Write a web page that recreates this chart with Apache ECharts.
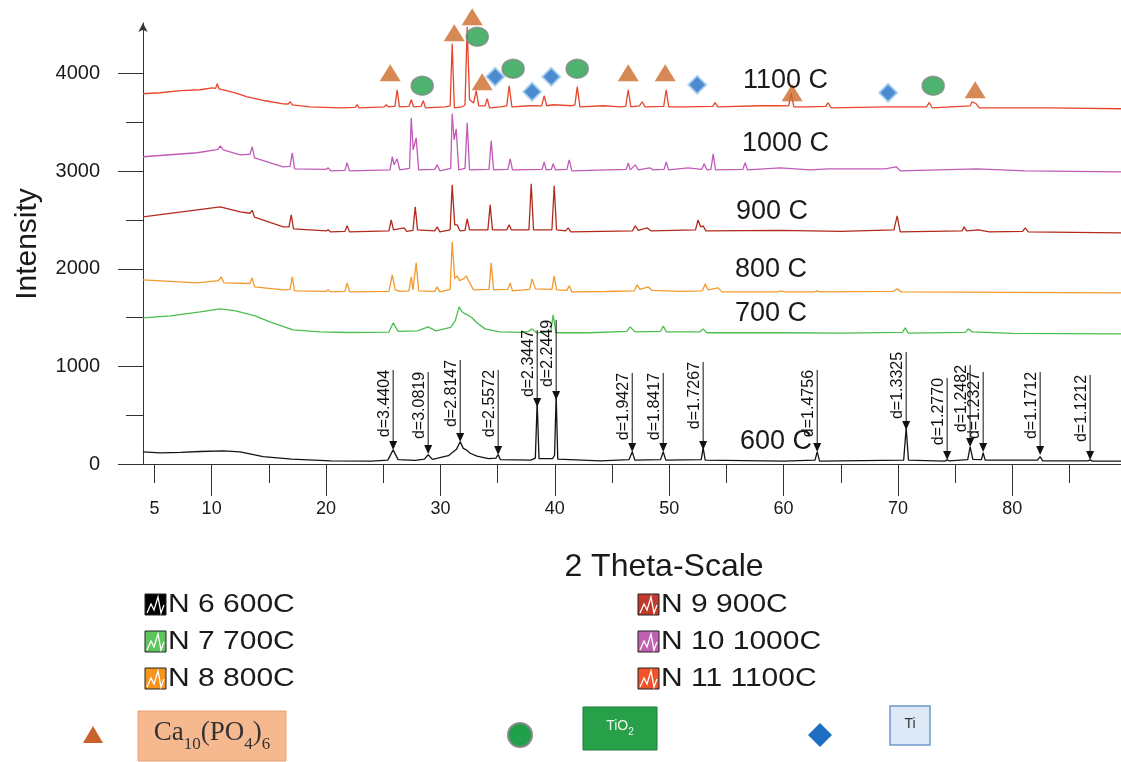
<!DOCTYPE html>
<html>
<head>
<meta charset="utf-8">
<title>XRD patterns</title>
<script src="https://cdn.jsdelivr.net/npm/echarts@6/dist/echarts.min.js"></script>
<style>
  html, body { margin: 0; padding: 0; background: #fff; }
  #chart { width: 1121px; height: 762px; }
</style>
</head>
<body>
<div id="chart"></div>
<script>
// 2 theta / intensity pairs
var s600 = [[4.0,125],[5.5,115],[7.3,120],[9.0,128],[11.0,135],[12.5,125],[14.5,75],[17.0,50],[20.4,32],[24.0,30],[25.4,40],[25.87,145],[26.3,45],[27.8,38],[28.6,50],[28.93,95],[29.3,48],[30.7,85],[31.4,150],[31.73,228],[32.0,160],[32.26,145],[32.6,110],[33.2,80],[34.2,55],[34.85,60],[35.05,95],[35.25,45],[37.9,40],[38.3,60],[38.46,636],[38.62,55],[39.8,55],[39.98,90],[40.12,708],[40.26,50],[44.0,32],[46.5,45],[46.77,125],[47.0,40],[49.25,45],[49.48,125],[49.7,40],[52.8,45],[52.97,165],[53.15,40],[60.0,30],[62.75,40],[62.94,125],[63.15,30],[70.5,40],[70.72,370],[70.92,40],[74.1,30],[74.3,42],[74.5,32],[76.1,45],[76.31,175],[76.55,48],[77.3,45],[77.45,115],[77.62,40],[82.2,40],[82.43,75],[82.65,32],[86.6,32],[86.8,42],[87.0,30],[89.5,30]];
var s700 = [[4.0,1497],[6.4,1518],[9.0,1560],[10.75,1590],[12.1,1570],[13.8,1518],[15.1,1456],[17.1,1375],[19.5,1354],[22.0,1348],[25.5,1352],[25.87,1446],[26.3,1360],[28.0,1365],[28.93,1405],[29.6,1365],[30.9,1400],[31.3,1470],[31.64,1610],[31.9,1560],[32.17,1538],[32.5,1520],[32.78,1497],[33.22,1446],[33.9,1385],[35.2,1354],[37.0,1350],[37.7,1360],[38.02,1385],[38.4,1345],[39.65,1360],[39.86,1528],[40.1,1345],[43.0,1345],[46.3,1360],[46.59,1405],[47.0,1354],[49.25,1360],[49.48,1415],[49.75,1354],[52.7,1355],[52.97,1385],[53.3,1345],[60.0,1345],[65.0,1342],[70.4,1350],[70.63,1395],[70.9,1342],[75.9,1350],[76.14,1385],[76.5,1354],[80.0,1338],[89.5,1333]];
var s800 = [[4.0,1887],[8.74,1856],[10.6,1880],[10.84,1918],[11.08,1856],[13.35,1850],[13.55,1908],[13.75,1815],[16.26,1785],[16.85,1790],[17.05,1918],[17.25,1774],[20.0,1770],[20.19,1785],[20.4,1764],[21.65,1770],[21.85,1856],[22.05,1764],[25.5,1770],[25.79,1938],[26.05,1785],[26.22,1800],[26.45,1770],[27.25,1775],[27.45,1918],[27.6,1785],[27.88,2061],[28.1,1774],[29.5,1770],[29.72,1815],[29.95,1764],[30.85,1790],[31.03,2277],[31.25,1900],[31.47,1928],[31.65,1880],[31.82,1887],[32.05,1900],[32.26,1928],[32.45,1880],[32.6,1887],[32.9,1785],[34.25,1790],[34.44,2061],[34.65,1785],[35.9,1790],[36.1,1856],[36.3,1774],[37.8,1790],[38.02,1897],[38.3,1795],[39.75,1790],[39.95,1928],[40.15,1785],[41.05,1780],[41.26,1826],[41.5,1764],[44.5,1768],[46.95,1775],[47.2,1836],[47.45,1790],[48.16,1815],[48.5,1780],[51.0,1770],[52.9,1775],[53.15,1846],[53.4,1785],[54.28,1805],[54.6,1764],[59.5,1765],[59.79,1774],[60.1,1764],[62.7,1765],[62.94,1774],[63.2,1764],[69.6,1770],[69.93,1795],[70.3,1764],[80.0,1760],[89.5,1754]];
var s900 = [[4.0,2533],[8.74,2605],[10.75,2636],[12.5,2585],[13.35,2570],[13.55,2600],[13.75,2530],[16.26,2431],[16.76,2430],[16.96,2554],[17.16,2410],[20.0,2390],[20.19,2400],[20.4,2379],[21.65,2385],[21.85,2441],[22.05,2379],[25.5,2390],[25.7,2502],[25.9,2400],[26.83,2420],[27.05,2385],[27.6,2395],[27.8,2636],[28.0,2400],[29.5,2390],[29.72,2431],[29.95,2379],[30.85,2400],[31.03,2861],[31.25,2451],[31.47,2451],[31.7,2390],[32.15,2395],[32.34,2513],[32.55,2400],[34.15,2400],[34.35,2656],[34.55,2400],[35.8,2400],[36.01,2451],[36.2,2400],[37.74,2400],[37.94,2872],[38.14,2400],[39.75,2400],[39.95,2851],[40.15,2400],[40.95,2390],[41.17,2420],[41.4,2379],[46.8,2390],[47.03,2441],[47.3,2395],[48.08,2420],[48.4,2390],[52.3,2400],[52.53,2502],[52.75,2430],[52.97,2441],[53.2,2390],[59.7,2395],[65.0,2385],[69.65,2400],[69.93,2544],[70.2,2379],[75.6,2390],[75.79,2431],[76.0,2390],[77.01,2400],[78.0,2380],[80.9,2385],[81.12,2420],[81.4,2380],[89.5,2369]];
var s1000 = [[4.0,3149],[8.74,3190],[10.31,3220],[10.55,3225],[10.75,3261],[11.01,3220],[12.5,3169],[13.35,3175],[13.55,3251],[13.75,3138],[16.26,3046],[16.85,3050],[17.05,3190],[17.25,3025],[20.0,3020],[20.19,3036],[20.4,3005],[21.65,3010],[21.85,3087],[22.05,3005],[25.6,3015],[25.79,3149],[25.95,3067],[26.22,3128],[26.45,3015],[27.3,3030],[27.45,3548],[27.62,3220],[27.88,3343],[28.1,3015],[29.5,3020],[29.72,3066],[29.95,3005],[30.9,3030],[31.03,3590],[31.2,3323],[31.38,3436],[31.6,3015],[32.15,3030],[32.34,3497],[32.55,3015],[34.25,3020],[34.44,3313],[34.65,3015],[35.9,3020],[36.1,3128],[36.3,3015],[38.9,3020],[39.07,3097],[39.25,3015],[39.7,3020],[39.86,3077],[40.05,3015],[41.06,3020],[41.26,3118],[41.5,3005],[46.25,3020],[46.42,3087],[46.6,3015],[47.03,3066],[47.3,3015],[48.3,3036],[48.6,3015],[49.55,3020],[49.74,3097],[49.95,3015],[51.66,3036],[52.85,3020],[53.06,3077],[53.3,3015],[53.65,3020],[53.85,3179],[54.05,3015],[56.44,3020],[56.64,3087],[56.85,3015],[59.7,3036],[62.3,3015],[63.9,3025],[68.88,3025],[69.84,3046],[70.2,3005],[76.92,3025],[81.12,3005],[89.5,2995]];
var s1100 = [[4.0,3795],[5.5,3805],[7.3,3826],[9.0,3836],[10.05,3856],[10.35,3850],[10.49,3897],[10.65,3846],[12.06,3805],[13.11,3764],[14.69,3723],[16.26,3692],[16.7,3690],[16.87,3713],[17.05,3680],[18.62,3661],[21.24,3651],[22.55,3655],[22.73,3682],[22.9,3651],[25.1,3660],[25.26,3682],[25.45,3661],[26.02,3665],[26.22,3836],[26.42,3661],[27.25,3665],[27.45,3733],[27.65,3661],[28.3,3665],[28.5,3723],[28.7,3651],[30.42,3661],[30.85,3670],[31.03,4308],[31.22,3651],[31.9,3661],[32.15,3680],[32.34,4482],[32.55,3733],[32.9,3700],[33.13,3826],[33.35,3672],[33.9,3670],[34.09,3744],[34.3,3651],[35.22,3661],[35.8,3670],[36.01,3877],[36.25,3661],[37.85,3672],[38.85,3670],[39.07,3774],[39.3,3672],[39.86,3682],[41.52,3672],[41.76,3680],[41.96,3867],[42.2,3661],[44.23,3672],[45.72,3661],[46.2,3665],[46.42,3836],[46.65,3661],[47.4,3670],[47.64,3713],[47.9,3661],[49.52,3665],[49.74,3836],[49.96,3661],[51.57,3661],[53.8,3665],[54.02,3703],[54.25,3661],[57.95,3672],[59.27,3672],[60.45,3670],[60.66,3805],[60.9,3661],[62.24,3661],[63.7,3665],[63.9,3703],[64.15,3651],[69.14,3661],[72.5,3660],[72.73,3703],[73.0,3651],[76.3,3670],[76.49,3713],[76.84,3692],[77.1,3651],[83.3,3651],[89.5,3641]];

// phase markers above the 1100 C pattern
var triangles = [[25.61,4010],[31.21,4420],[32.78,4584],[33.65,3918],[46.42,4010],[49.65,4010],[60.75,3805],[76.75,3836]];
var circles = [[28.41,3877],[33.22,4379],[36.36,4051],[41.96,4051],[73.08,3877]];
var diamonds = [[34.79,3969],[38.02,3815],[39.69,3969],[52.45,3887],[69.14,3805]];

// d-spacing annotations on the 600 C pattern: 2theta, top of line, arrow tip
var dTheta = [25.87, 28.93, 31.73, 35.05, 38.46, 40.12, 46.77, 49.48, 52.97, 62.94, 70.72, 74.30, 76.31, 77.45, 82.43, 86.80];
var dTop   = [964, 944, 1067, 964, 1374, 1477, 933, 933, 1046, 964, 1149, 882, 1015, 944, 944, 913];
var dTip   = [144, 103, 226, 92, 585, 656, 123, 123, 144, 123, 349, 41, 174, 123, 92, 41];
var dText  = ['3.4404','3.0819','2.8147','2.5572','2.3447','2.2449','1.9427','1.8417','1.7267','1.4756','1.3325','1.2770','1.2482','1.2327','1.1712','1.1212'];

var xTicksMajor = [10, 20, 30, 40, 50, 60, 70, 80];
var xTicksMinor = [5, 15, 25, 35, 45, 55, 65, 75, 85];
var xLabels = [5, 10, 20, 30, 40, 50, 60, 70, 80];
var yTicksMajor = [0, 1000, 2000, 3000, 4000];
var yTicksMinor = [500, 1500, 2500, 3500];

var seriesNames = ['N 6 600C', 'N 7 700C', 'N 8 800C', 'N 9 900C', 'N 10 1000C', 'N 11 1100C'];
var curveLabels = ['600 C', '700 C', '800 C', '900 C', '1000 C', '1100 C'];
var lineColors = ['#141414', '#4dbd4d', '#f39a2e', '#b22a1c', '#c25ab8', '#e8452a'];
var iconColors = ['#000000', '#5cc55c', '#f7941d', '#c0392b', '#c060b0', '#f0522a'];

var FONT = '"Liberation Sans", Arial, sans-serif';
var chart = echarts.init(document.getElementById('chart'));

var allData = [s600, s700, s800, s900, s1000, s1100];
var series = allData.map(function (d, i) {
  return {
    name: seriesNames[i], type: 'line', data: d, showSymbol: false, silent: true,
    lineStyle: { color: lineColors[i], width: 1.3 }, z: 2
  };
});

series.push({
  type: 'custom', z: 3, silent: true,
  data: dTheta.map(function (t, i) { return [t, dTop[i], dTip[i], i]; }),
  renderItem: function (params, api) {
    var top = api.coord([api.value(0), api.value(1)]);
    var tip = api.coord([api.value(0), api.value(2)]);
    var i = api.value(3);
    return {
      type: 'group',
      children: [
        { type: 'line', shape: { x1: top[0], y1: top[1], x2: tip[0], y2: tip[1] - 8 },
          style: { stroke: '#111', lineWidth: 1 } },
        { type: 'polygon', shape: { points: [[tip[0] - 4, tip[1] - 9], [tip[0] + 4, tip[1] - 9], [tip[0], tip[1]]] },
          style: { fill: '#111' } },
        { type: 'text', x: top[0] - 9, y: top[1], rotation: Math.PI / 2,
          style: { text: 'd=' + dText[i], align: 'right', verticalAlign: 'middle',
                   font: '16px ' + FONT, fill: '#111' } }
      ]
    };
  }
});

series.push({ type: 'scatter', data: triangles, symbol: 'triangle', symbolSize: [21, 17], clip: false, z: 5,
  itemStyle: { color: '#cc6a2a' } });
series.push({ type: 'scatter', data: circles, symbol: 'circle', symbolSize: [22, 19], clip: false, z: 5,
  itemStyle: { color: '#20a04a', borderColor: '#8a8a8a', borderWidth: 1.5 } });
series.push({ type: 'scatter', data: diamonds, symbol: 'diamond', symbolSize: [18, 18], clip: false, z: 5,
  itemStyle: { color: '#1e6ec3', borderColor: '#a9d0f0', borderWidth: 2 } });

// pixel spots for the temperature notes beside the curves
var curveLabelPos = [[740, 442], [735, 314], [735, 270], [736, 212], [742, 144], [743, 81]];

var graphics = curveLabels.map(function (t, i) {
  return { type: 'text', x: curveLabelPos[i][0], y: curveLabelPos[i][1], z: 10,
    style: { text: t, font: '27px ' + FONT, fill: '#1a1a1a', verticalAlign: 'middle' } };
});

graphics.push({ type: 'text', x: 28, y: 244, rotation: Math.PI / 2,
  style: { text: 'Intensity', font: '30px ' + FONT, fill: '#1a1a1a', align: 'center', verticalAlign: 'middle' } });
graphics.push({ type: 'text', x: 664, y: 567,
  style: { text: '2 Theta-Scale', font: '32px ' + FONT, fill: '#1a1a1a', align: 'center', verticalAlign: 'middle' } });

// legend of the six patterns
seriesNames.forEach(function (n, i) {
  var x = i < 3 ? 145 : 638;
  var y = 594 + (i % 3) * 37;
  graphics.push({ type: 'group', x: x, y: y, children: [
    { type: 'rect', shape: { x: 0, y: 0, width: 21, height: 21 },
      style: { fill: iconColors[i], stroke: '#222', lineWidth: 1 } },
    { type: 'polyline', shape: { points: [[2, 19], [6, 10], [9, 16], [13, 3], [16, 19], [19, 11]] },
      style: { stroke: '#fff', lineWidth: 1.3, fill: null } },
    { type: 'text', x: 23, y: 11, scaleX: 1.2,
      style: { text: n, font: '25px ' + FONT, fill: '#1a1a1a', verticalAlign: 'middle' } }
  ] });
});

// phase key
graphics.push({ type: 'polygon', shape: { points: [[83, 743], [103, 743], [93, 726]] }, style: { fill: '#c8622a' } });
graphics.push({ type: 'rect', shape: { x: 138, y: 711, width: 148, height: 50 },
  style: { fill: '#f6b88f', stroke: '#e8a070', lineWidth: 1 } });
graphics.push({ type: 'text', x: 212, y: 736,
  style: { text: '{b|Ca}{s|10}{b|(PO}{s|4}{b|)}{s|6}', align: 'center', verticalAlign: 'middle',
    rich: {
      b: { fontFamily: '"Liberation Serif", "Times New Roman", serif', fontSize: 27, fill: '#333', verticalAlign: 'bottom', padding: [0, 0, 7, 0] },
      s: { fontFamily: '"Liberation Serif", "Times New Roman", serif', fontSize: 17, fill: '#333', verticalAlign: 'bottom' }
    } } });
graphics.push({ type: 'ellipse', shape: { cx: 520, cy: 735, rx: 12, ry: 12 },
  style: { fill: '#20a04a', stroke: '#8a8a8a', lineWidth: 2 } });
graphics.push({ type: 'rect', shape: { x: 583, y: 707, width: 74, height: 43 },
  style: { fill: '#27a049', stroke: '#1a7a35', lineWidth: 1 } });
graphics.push({ type: 'text', x: 620, y: 728,
  style: { text: '{b|TiO}{s|2}', align: 'center', verticalAlign: 'middle',
    rich: {
      b: { fontFamily: FONT, fontSize: 14, fill: '#eef5ee', verticalAlign: 'bottom', padding: [0, 0, 4, 0] },
      s: { fontFamily: FONT, fontSize: 10, fill: '#eef5ee', verticalAlign: 'bottom' }
    } } });
graphics.push({ type: 'polygon', shape: { points: [[820, 723], [832, 735], [820, 747], [808, 735]] },
  style: { fill: '#1e6ec3' } });
graphics.push({ type: 'rect', shape: { x: 890, y: 706, width: 40, height: 39 },
  style: { fill: '#dde9f6', stroke: '#7096c8', lineWidth: 1.5 } });
graphics.push({ type: 'text', x: 910, y: 724,
  style: { text: 'Ti', font: '14px ' + FONT, fill: '#333', align: 'center', verticalAlign: 'middle' } });

var axisLineStyle = { color: '#333', width: 1 };

chart.setOption({
  animation: false,
  backgroundColor: '#fff',
  grid: { left: 143, right: 0, top: 23, bottom: 298 },
  xAxis: [{
    type: 'value', min: 4, max: 89.5,
    axisLine: { show: true, lineStyle: axisLineStyle },
    axisTick: { show: true, length: 32, customValues: xTicksMajor, lineStyle: axisLineStyle },
    axisLabel: { customValues: xLabels, margin: 36, fontSize: 18, color: '#1a1a1a', fontFamily: FONT,
                 formatter: function (v) { return String(v); } },
    splitLine: { show: false }
  }, {
    type: 'value', min: 4, max: 89.5, position: 'bottom',
    axisLine: { show: false },
    axisTick: { show: true, length: 19, customValues: xTicksMinor, lineStyle: axisLineStyle },
    axisLabel: { show: false },
    splitLine: { show: false }
  }],
  yAxis: [{
    type: 'value', min: 0, max: 4520,
    axisLine: { show: true, lineStyle: axisLineStyle, symbol: ['none', 'arrow'], symbolSize: [7, 9] },
    axisTick: { show: true, length: 25, customValues: yTicksMajor, lineStyle: axisLineStyle },
    axisLabel: { customValues: yTicksMajor, margin: 43, fontSize: 20, color: '#1a1a1a', fontFamily: FONT,
                 formatter: function (v) { return String(v); } },
    splitLine: { show: false }
  }, {
    type: 'value', min: 0, max: 4520, position: 'left',
    axisLine: { show: false },
    axisTick: { show: true, length: 17, customValues: yTicksMinor, lineStyle: axisLineStyle },
    axisLabel: { show: false },
    splitLine: { show: false }
  }],
  series: series,
  graphic: graphics
});
</script>
</body>
</html>
